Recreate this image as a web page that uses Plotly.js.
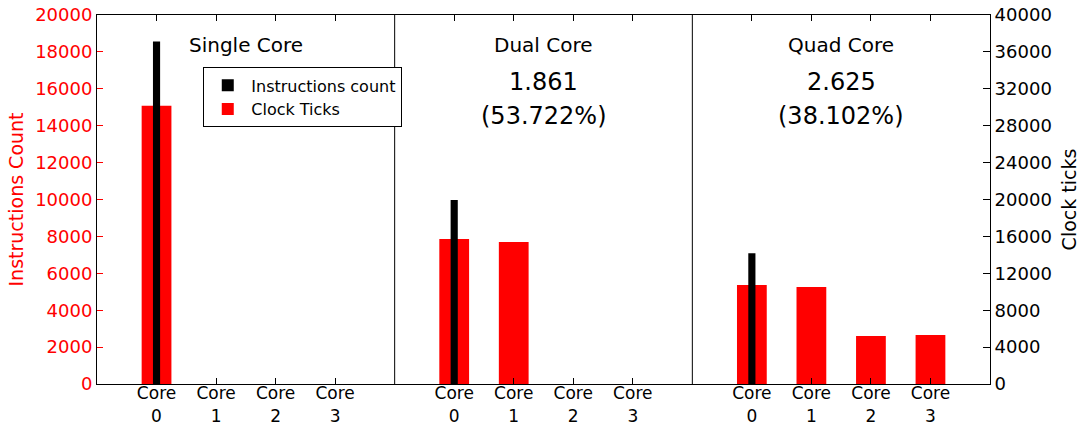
<!DOCTYPE html>
<html>
<head>
<meta charset="utf-8">
<script src="https://cdn.plot.ly/plotly-3.0.1.min.js"></script>
<style>html,body{margin:0;padding:0;background:#fff;}#chart{width:1081px;height:424px;}</style>
</head>
<body>
<div id="chart"></div>
<script>
// ---- data ----
var cores = ['Core<br>0', 'Core<br>1', 'Core<br>2', 'Core<br>3'];
var panelTitles = ['Single Core', 'Dual Core', 'Quad Core'];
var speedups = ['', '1.861', '2.625'];
var efficiencies = ['', '(53.722%)', '(38.102%)'];
var instrSingle = [18560, null, null, null];
var instrDual = [9970, null, null, null];
var instrQuad = [7080, null, null, null];
var ticksSingle = [30150, 0, 0, 0];
var ticksDual = [15720, 15390, 0, 0];
var ticksQuad = [10730, 10520, 5200, 5310];

var FONT = 'DejaVu Sans, Verdana, sans-serif';
var instr = [instrSingle, instrDual, instrQuad];
var clk = [ticksSingle, ticksDual, ticksQuad];
var xs = ['x', 'x2', 'x3'];

var traces = [];
for (var i = 0; i < 3; i++) {
  traces.push({
    type: 'bar', x: cores, y: clk[i], xaxis: xs[i], yaxis: 'y',
    name: 'Clock Ticks', legendgroup: 'clk', showlegend: i === 0,
    width: 0.5, marker: {color: '#ff0000', line: {width: 0}},
    legendrank: 2, hoverinfo: 'y'
  });
}
for (var i = 0; i < 3; i++) {
  traces.push({
    type: 'bar', x: cores, y: instr[i], xaxis: xs[i], yaxis: 'y2',
    name: 'Instructions count', legendgroup: 'ins', showlegend: i === 0,
    width: 0.12, marker: {color: '#000000', line: {width: 0}},
    legendrank: 1, hoverinfo: 'y'
  });
}

function xax(dom) {
  return {
    domain: dom, type: 'category', range: [-1, 4],
    showline: true, linecolor: '#000', linewidth: 1, mirror: 'ticks',
    ticks: 'inside', ticklen: 6, tickcolor: '#000', tickwidth: 1,
    showgrid: false, zeroline: false, fixedrange: true,
    ticklabelstandoff: -6,
    tickfont: {family: FONT, size: 17, color: '#000'}, anchor: 'y'
  };
}

var annotations = [];
var centers = [1/6, 0.5, 5/6];
for (var i = 0; i < 3; i++) {
  annotations.push({xref: 'paper', yref: 'paper', x: centers[i], y: 0.918, text: panelTitles[i],
    showarrow: false, xanchor: 'center', yanchor: 'middle', font: {family: FONT, size: 20, color: '#000'}});
  if (speedups[i]) {
    annotations.push({xref: 'paper', yref: 'paper', x: centers[i], y: 0.818, text: speedups[i],
      showarrow: false, xanchor: 'center', yanchor: 'middle', font: {family: FONT, size: 24, color: '#000'}});
    annotations.push({xref: 'paper', yref: 'paper', x: centers[i], y: 0.725, text: efficiencies[i],
      showarrow: false, xanchor: 'center', yanchor: 'middle', font: {family: FONT, size: 24, color: '#000'}});
  }
}

var layout = {
  width: 1081, height: 424,
  margin: {l: 97, r: 91, t: 15, b: 40},
  paper_bgcolor: '#fff', plot_bgcolor: '#fff',
  barmode: 'overlay',
  font: {family: FONT, color: '#000'},
  xaxis: xax([0, 1/3]),
  xaxis2: xax([1/3, 2/3]),
  xaxis3: xax([2/3, 1]),
  yaxis: {
    side: 'right', anchor: 'x3', range: [0, 40000], dtick: 4000, tick0: 0, tickformat: 'd',
    showline: true, linecolor: '#000', linewidth: 1,
    ticks: 'inside', ticklen: 7, tickcolor: '#000',
    showgrid: false, zeroline: false, fixedrange: true,
    tickfont: {family: FONT, size: 18, color: '#000'},
    title: {text: 'Clock ticks', font: {family: FONT, size: 19, color: '#000'}, standoff: 11}
  },
  yaxis2: {
    overlaying: 'y', side: 'left', anchor: 'x', range: [0, 20000], dtick: 2000, tick0: 0, tickformat: 'd',
    showline: true, linecolor: '#000', linewidth: 1,
    ticks: 'inside', ticklen: 6, tickcolor: '#ff0000',
    showgrid: false, zeroline: false, fixedrange: true,
    tickfont: {family: FONT, size: 18, color: '#ff0000'},
    title: {text: 'Instructions Count', font: {family: FONT, size: 19, color: '#ff0000'}, standoff: 6}
  },
  shapes: [
    {type: 'line', xref: 'paper', yref: 'paper', x0: 1/3, x1: 1/3, y0: 0, y1: 1, line: {color: '#000', width: 1}},
    {type: 'line', xref: 'paper', yref: 'paper', x0: 2/3, x1: 2/3, y0: 0, y1: 1, line: {color: '#000', width: 1}}
  ],
  showlegend: true,
  legend: {
    x: 0.119, y: 0.858, xanchor: 'left', yanchor: 'top',
    bgcolor: '#fff', bordercolor: '#000', borderwidth: 1,
    font: {family: FONT, size: 16, color: '#000'},
    itemwidth: 37, traceorder: 'normal'
  },
  annotations: annotations
};

Plotly.newPlot('chart', traces, layout, {displayModeBar: false, staticPlot: true});
</script>
</body>
</html>
